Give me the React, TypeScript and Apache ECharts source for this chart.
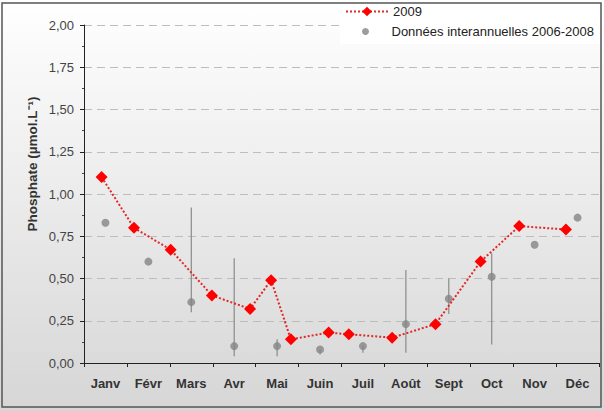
import React, { useEffect, useRef } from "react";
import * as echarts from "echarts";

const months = ["Janv", "Févr", "Mars", "Avr", "Mai", "Juin", "Juil", "Août", "Sept", "Oct", "Nov", "Déc"];

// 2009 samples: position in months (0 = start of January) and value
const samplePos2009 = [0.41, 1.165, 2.02, 2.98, 3.87, 4.36, 4.82, 5.7, 6.17, 7.18, 8.19, 9.24, 10.14, 11.23];
const sampleVal2009 = [1.1, 0.8, 0.67, 0.4, 0.32, 0.49, 0.14, 0.18, 0.17, 0.15, 0.23, 0.6, 0.81, 0.79];

// 2006-2008 inter-annual data
const interMean = [0.83, 0.6, 0.36, 0.1, 0.1, 0.08, 0.1, 0.23, 0.38, 0.51, 0.7, 0.86];
const interLow = [0.83, 0.6, 0.3, 0.04, 0.04, 0.05, 0.06, 0.06, 0.29, 0.11, 0.7, 0.86];
const interHigh = [0.83, 0.6, 0.92, 0.62, 0.14, 0.08, 0.1, 0.55, 0.5, 0.65, 0.7, 0.86];

const FONT = "Liberation Sans, Arial, sans-serif";

export default function App() {
  const ref = useRef<HTMLDivElement>(null);
  useEffect(() => {
    const chart = echarts.init(ref.current!, null, { renderer: "svg" });
    const fmt = (v: number) => v.toFixed(2).replace(".", ",");
    chart.setOption({
      animation: false,
      backgroundColor: new echarts.graphic.LinearGradient(0, 0, 0, 1, [
        { offset: 0, color: "#ffffff" },
        { offset: 1, color: "#d6d6d6" },
      ]),
      textStyle: { fontFamily: FONT },
      grid: { left: 84, right: 5, top: 25, bottom: 48 },
      legend: [
        {
          left: 345,
          top: 5,
          padding: 0,
          itemWidth: 42,
          itemHeight: 12,
          textStyle: { fontSize: 13, color: "#222" },
          data: ["2009"],
        },
        {
          left: 362,
          top: 25,
          padding: 0,
          itemWidth: 42,
          itemHeight: 7,
          textStyle: { fontSize: 13, color: "#222" },
          data: ["Données interannuelles 2006-2008"],
        },
      ],
      xAxis: [
        {
          type: "category",
          data: months,
          boundaryGap: true,
          axisLine: { lineStyle: { color: "#222", width: 1 } },
          axisTick: { show: true, length: 4, lineStyle: { color: "#222" } },
          axisLabel: { fontSize: 13, fontWeight: "bold", color: "#333", margin: 14 },
          splitLine: { show: false },
        },
        { type: "value", min: 0, max: 12, show: false },
      ],
      yAxis: {
        type: "value",
        min: 0,
        max: 2,
        interval: 0.25,
        axisLine: { show: true, lineStyle: { color: "#222", width: 1 } },
        axisTick: { show: true, length: 4, lineStyle: { color: "#222" } },
        minorTick: { show: true, splitNumber: 2, length: 2, lineStyle: { color: "#444" } },
        axisLabel: { fontSize: 13, color: "#444", margin: 10, formatter: (v: number) => fmt(v) },
        splitLine: { show: true, lineStyle: { color: "#bdbdbd", type: [8, 5], width: 1.2 } },
      },
      graphic: [
        {
          type: "rect",
          shape: { x: 340, y: 4, width: 260, height: 40 },
          style: { fill: "#ffffff" },
          z: 1,
        },
        {
          type: "text",
          x: 32,
          y: 164,
          rotation: Math.PI / 2,
          style: {
            text: "Phosphate (µmol.L⁻¹)",
            fontSize: 13.5,
            fontWeight: "bold",
            fill: "#333",
            align: "center",
            verticalAlign: "middle",
            fontFamily: FONT,
          },
        },
        {
          type: "rect",
          shape: { x: 2, y: 3, width: 599, height: 404 },
          style: { fill: "none", stroke: "#555", lineWidth: 1.5 },
          z: 100,
        },
      ],
      series: [
        {
          type: "custom",
          xAxisIndex: 1,
          data: months.map((_, i) => [i + 0.5, interLow[i], interHigh[i]]),
          encode: { x: 0, y: [1, 2] },
          renderItem: (params: any, api: any) => {
            const x = api.value(0);
            const p1 = api.coord([x, api.value(1)]);
            const p2 = api.coord([x, api.value(2)]);
            return {
              type: "line",
              shape: { x1: p1[0], y1: p1[1], x2: p2[0], y2: p2[1] },
              style: { stroke: "#8a8a8a", lineWidth: 1.2 },
            };
          },
          z: 2,
        },
        {
          name: "Données interannuelles 2006-2008",
          type: "scatter",
          xAxisIndex: 1,
          data: months.map((_, i) => [i + 0.5, interMean[i]]),
          symbol: "circle",
          symbolSize: 8,
          itemStyle: { color: "#858585" },
          z: 3,
        },
        {
          name: "2009",
          type: "line",
          xAxisIndex: 1,
          data: samplePos2009.map((p, i) => [p, sampleVal2009[i]]),
          symbol: "diamond",
          symbolSize: 12,
          showSymbol: true,
          itemStyle: { color: "#ff0000" },
          lineStyle: { color: "#e02828", type: "dotted", width: 2 },
          z: 4,
        },
      ],
    });
    return () => chart.dispose();
  }, []);
  return <div ref={ref} style={{ position: "fixed", left: 0, top: 0, width: 604, height: 411 }} />;
}
